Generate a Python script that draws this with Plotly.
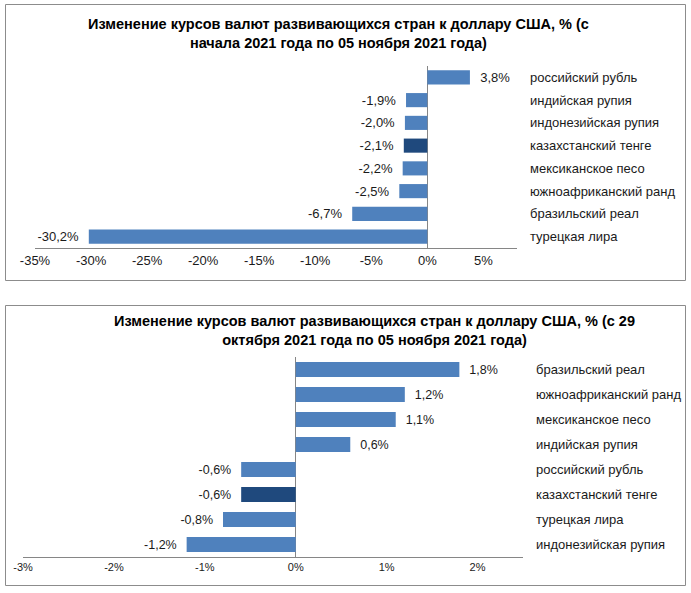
import plotly.graph_objects as go

# ---- data ----
title_top = "Изменение курсов валют развивающихся стран к доллару США, % (с<br>начала 2021 года по 05 ноября 2021 года)"
cats_top = ["российский рубль", "индийская рупия", "индонезийская рупия", "казахстанский тенге",
            "мексиканское песо", "южноафриканский ранд", "бразильский реал", "турецкая лира"]
vals_top = [3.8, -1.9, -2.0, -2.1, -2.2, -2.5, -6.7, -30.2]
ticks_top = [-35, -30, -25, -20, -15, -10, -5, 0, 5]
ticktext_top = ["-35%", "-30%", "-25%", "-20%", "-15%", "-10%", "-5%", "0%", "5%"]

title_bot = "Изменение курсов валют развивающихся стран к доллару США, % (с 29<br>октября 2021 года по 05 ноября 2021 года)"
cats_bot = ["бразильский реал", "южноафриканский ранд", "мексиканское песо", "индийская рупия",
            "российский рубль", "казахстанский тенге", "турецкая лира", "индонезийская рупия"]
vals_bot = [1.8, 1.2, 1.1, 0.6, -0.6, -0.6, -0.8, -1.2]
ticks_bot = [-3, -2, -1, 0, 1, 2]
ticktext_bot = ["-3%", "-2%", "-1%", "0%", "1%", "2%"]

highlight = "казахстанский тенге"

# ---- style ----
W, H = 691, 593
BLUE = "#4F81BD"
DARK = "#1F497D"
GREY = "#868686"
TXT = "#1a1a1a"
FONT = "Liberation Sans, Arial, sans-serif"
NB = "\u00a0\u00a0"


def fmt(v):
    s = f"{v:.1f}%".replace(".", ",")
    return NB + s if v >= 0 else s + NB


def px(x):
    return x / W


def py(y):
    return 1 - y / H


fig = go.Figure()

fig.add_trace(go.Bar(
    x=vals_top, y=cats_top, orientation="h", xaxis="x", yaxis="y",
    marker=dict(color=[DARK if c == highlight else BLUE for c in cats_top], line=dict(width=0)),
    width=0.62, text=[fmt(v) for v in vals_top], textposition="outside",
    constraintext="none", cliponaxis=False,
    textfont=dict(size=13, color=TXT, family=FONT), showlegend=False,
))
fig.add_trace(go.Bar(
    x=vals_bot, y=cats_bot, orientation="h", xaxis="x2", yaxis="y2",
    marker=dict(color=[DARK if c == highlight else BLUE for c in cats_bot], line=dict(width=0)),
    width=0.6, text=[fmt(v) for v in vals_bot], textposition="outside",
    constraintext="none", cliponaxis=False,
    textfont=dict(size=12.5, color=TXT, family=FONT), showlegend=False,
))

common_x = dict(showgrid=False, showline=True, linecolor=GREY, linewidth=1,
                zeroline=True, zerolinecolor=GREY, zerolinewidth=1, ticks="",
                fixedrange=True, automargin=False)
common_y = dict(showgrid=False, showline=False, zeroline=False, ticks="",
                side="right", autorange="reversed", ticklabelstandoff=12,
                automargin=False, fixedrange=True,
                tickfont=dict(size=13, color=TXT, family=FONT))

fig.update_layout(
    width=W, height=H, margin=dict(l=0, r=0, t=0, b=0, autoexpand=False),
    paper_bgcolor="white", plot_bgcolor="white",
    font=dict(family=FONT, color=TXT),
    xaxis=dict(domain=[px(35), px(517)], range=[-35, 8], anchor="y",
               tickvals=ticks_top, ticktext=ticktext_top,
               tickfont=dict(size=13, color=TXT, family=FONT), **common_x),
    yaxis=dict(domain=[py(248), py(66)], anchor="x", **common_y),
    xaxis2=dict(domain=[px(23), px(523)], range=[-3, 2.5], anchor="y2",
                tickvals=ticks_bot, ticktext=ticktext_bot,
                tickfont=dict(size=11, color=TXT, family=FONT), **common_x),
    yaxis2=dict(domain=[py(557), py(357)], anchor="x2", **common_y),
    shapes=[
        dict(type="rect", xref="paper", yref="paper", x0=px(5.5), x1=px(685.5), y0=py(280.5), y1=py(4.5),
             line=dict(color="#8c8c8c", width=1)),
        dict(type="rect", xref="paper", yref="paper", x0=px(5.5), x1=px(685.5), y0=py(585.5), y1=py(305.5),
             line=dict(color="#8c8c8c", width=1)),
    ],
    annotations=[
        dict(text="<b>" + title_top + "</b>", xref="paper", yref="paper", x=px(338), y=py(33),
             xanchor="center", yanchor="middle", showarrow=False, align="center",
             font=dict(size=14.5, color="black", family=FONT)),
        dict(text="<b>" + title_bot + "</b>", xref="paper", yref="paper", x=px(374), y=py(330),
             xanchor="center", yanchor="middle", showarrow=False, align="center",
             font=dict(size=14.5, color="black", family=FONT)),
    ],
)

fig.write_html("out.html",
               config={"displayModeBar": False, "staticPlot": True},
               post_script="document.body.style.margin='0';document.body.style.overflow='hidden';")
